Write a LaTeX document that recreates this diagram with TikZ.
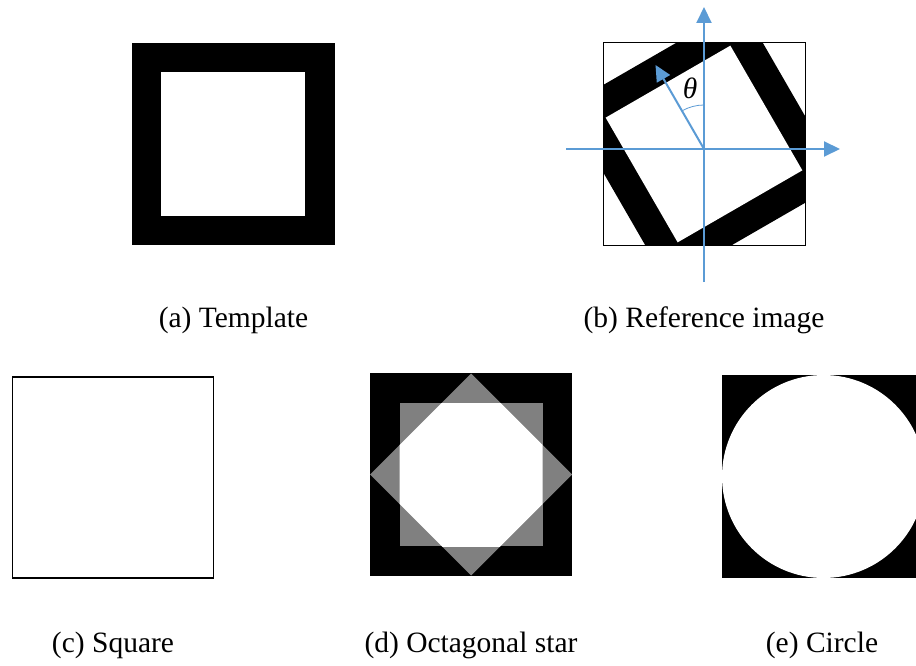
\documentclass[tikz,border=0pt]{standalone}
\usepackage{fontspec}
\setmainfont{Liberation Serif}
\usetikzlibrary{arrows.meta}
\definecolor{axblue}{RGB}{91,155,213}
\definecolor{midgray}{RGB}{128,128,128}
\begin{document}
\begin{tikzpicture}[x=1pt,y=-1pt,
  caption/.style={font=\fontsize{29.5}{35}\selectfont, anchor=base, inner sep=0pt},
  axis/.style={draw=axblue, line width=2pt, -{Triangle[length=16pt,width=15pt]}},
]
\useasboundingbox (0,0) rectangle (916,666);
\clip (0,0) rectangle (916,666);
\fill[white] (0,0) rectangle (916,666);

% (a) Template
\fill[black] (132,43) rectangle (335,245);
\fill[white] (161,72) rectangle (305,216);
\node[caption] (capa) at (233.5,327) {(a) Template};

% (b) Reference image
\begin{scope}
  \clip (603,43) rectangle (805,245);
  \begin{scope}[shift={(704,144)}, rotate=30]
    \fill[black] (-101.5,-101.5) rectangle (101.5,101.5);
    \fill[white] (-72,-72) rectangle (72,72);
  \end{scope}
\end{scope}
\draw[black, line width=1pt] (603,43) rectangle (805,245);
\coordinate (o) at (704,149);
\coordinate (vb) at (704,282);
\coordinate (vt) at (704,7);
\coordinate (hl) at (566,149);
\coordinate (hr) at (840,149);
\coordinate (th) at (655.5,65);
\draw[axis] (vb) -- (vt);
\draw[axis] (hl) -- (hr);
\draw[axis] (o) -- (th);
\draw[axblue, line width=0.8pt] (704,105) arc[start angle=90, end angle=120, radius=44pt];
\node[font=\fontsize{29.5}{35}\selectfont\itshape, inner sep=0pt] (theta) at (690,88) {θ};
\node[caption] (capb) at (704,327) {(b) Reference image};

% (c) Square
\draw[black, line width=1.5pt] (12.5,377) rectangle (213.5,578);
\node[caption] (capc) at (113,652) {(c) Square};

% (d) Octagonal star
\fill[black] (370,373) rectangle (572,576);
\fill[midgray] (399.5,403) rectangle (542.5,546);
\fill[midgray] (471,373.5) -- (572,474.5) -- (471,575.5) -- (370,474.5) -- cycle;
\begin{scope}
  \clip (399.5,403) rectangle (542.5,546);
  \fill[white] (471,373.5) -- (572,474.5) -- (471,575.5) -- (370,474.5) -- cycle;
\end{scope}
\node[caption] (capd) at (471,652) {(d) Octagonal star};

% (e) Circle
\fill[black] (722,375) rectangle (925,578);
\fill[white] (823.5,476.5) circle[radius=101.5pt];
\node[caption] (cape) at (822,652) {(e) Circle};
\end{tikzpicture}
\end{document}
